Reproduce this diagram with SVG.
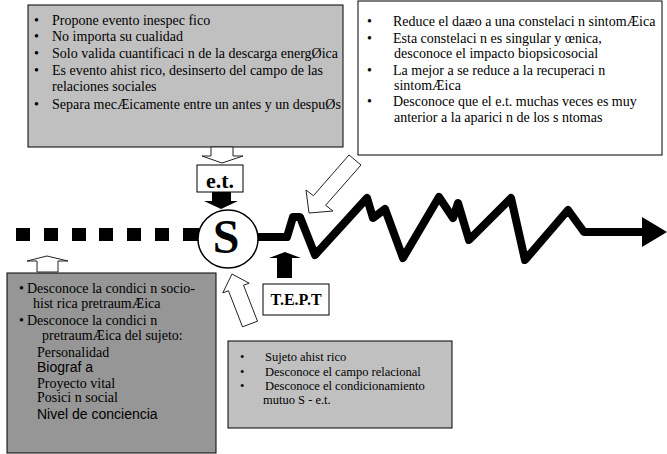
<svg xmlns="http://www.w3.org/2000/svg" width="667" height="454" viewBox="0 0 667 454">
<style>
.t{font-family:"Liberation Serif","Times New Roman",serif;font-size:14px;fill:#000}
.s{font-family:"Liberation Sans",Arial,sans-serif;font-size:14px;fill:#000}
.m{font-family:"Liberation Serif","Times New Roman",serif;font-size:12.5px;fill:#000}
.b{font-family:"Liberation Serif","Times New Roman",serif;font-weight:bold;fill:#000}
.box{stroke:#000;stroke-width:1}
.hollow{fill:#fff;stroke:#222;stroke-width:1;stroke-linejoin:miter}
</style>
<rect width="667" height="454" fill="#fff"/>

<g id="box-evento">
<rect class="box" x="28" y="5" width="315" height="142" fill="#c0c0c0"/>
<text class="t" x="34" y="24.5">•</text><text class="t" x="52" y="24.5">Propone evento inespec fico</text>
<text class="t" x="34" y="41">•</text><text class="t" x="52" y="41">No importa su cualidad</text>
<text class="t" x="34" y="58">•</text><text class="t" x="52" y="58">Solo valida cuantificaci n de la descarga energØica</text>
<text class="t" x="34" y="74.5">•</text><text class="t" x="52" y="74.5">Es evento ahist rico, desinserto del campo de las</text>
<text class="t" x="52" y="91">relaciones sociales</text>
<text class="t" x="34" y="109">•</text><text class="t" x="52" y="109">Separa mecÆicamente entre un antes y un despuØs</text>
</g>

<g id="box-sintomas">
<rect class="box" x="358" y="1" width="304" height="154" fill="#fff"/>
<text class="t" x="367" y="26">•</text><text class="t" x="393" y="26">Reduce el daæo a una constelaci n sintomÆica</text>
<text class="t" x="367" y="42.5">•</text><text class="t" x="393" y="42.5">Esta constelaci n es singular y œnica,</text>
<text class="t" x="394" y="58">desconoce el impacto biopsicosocial</text>
<text class="t" x="367" y="74.5">•</text><text class="t" x="393" y="74.5">La mejor a se reduce a la recuperaci n</text>
<text class="t" x="394" y="90">sintomÆica</text>
<text class="t" x="367" y="106">•</text><text class="t" x="393" y="106">Desconoce que el e.t. muchas veces es muy</text>
<text class="t" x="394" y="121.5">anterior a la aparici n de los s ntomas</text>
</g>

<g id="box-condicion">
<rect class="box" x="7" y="273" width="209" height="180" fill="#969696"/>
<text class="t" x="19" y="292.5">•</text><text class="t" x="27" y="292.5">Desconoce la condici n socio-</text>
<text class="t" x="33" y="307.5">hist rica pretraumÆica</text>
<text class="t" x="19" y="324.5">•</text><text class="t" x="27" y="324.5">Desconoce la condici n</text>
<text class="t" x="42" y="339.5">pretraumÆica del sujeto:</text>
<text class="t" x="37" y="356.5">Personalidad</text>
<text class="s" x="37" y="371.5">Biograf a</text>
<text class="t" x="37" y="387.5">Proyecto vital</text>
<text class="t" x="37" y="401.5">Posici n social</text>
<text class="s" x="37" y="418.5">Nivel de conciencia</text>
</g>

<g id="box-sujeto">
<rect class="box" x="228" y="341" width="224" height="87" fill="#c0c0c0"/>
<text class="m" x="240" y="361">•</text><text class="m" x="265" y="361">Sujeto ahist rico</text>
<text class="m" x="240" y="376">•</text><text class="m" x="265" y="376">Desconoce el campo relacional</text>
<text class="m" x="240" y="390">•</text><text class="m" x="265" y="390">Desconoce el condicionamiento</text>
<text class="m" x="263" y="404">mutuo S - e.t.</text>
</g>

<g id="node-et">
<rect class="box" x="197" y="165" width="46" height="27" fill="#fff"/>
<text class="b" x="220" y="188" font-size="22" text-anchor="middle">e.t.</text>
</g>

<g id="node-tept">
<rect class="box" x="263" y="284" width="66" height="31" fill="#fff"/>
<text class="b" x="296" y="305" font-size="16" text-anchor="middle">T.E.P.T</text>
</g>

<g id="connectors">
<g fill="#000">
<rect x="16" y="228" width="14" height="13"/>
<rect x="44" y="228" width="14" height="13"/>
<rect x="72" y="228" width="14" height="13"/>
<rect x="99" y="228" width="14" height="13"/>
<rect x="127" y="228" width="14" height="13"/>
<rect x="155" y="228" width="14" height="13"/>
<rect x="183" y="228" width="16" height="13"/>
</g>
<path d="M 256 237 L 287 237 L 293 217 L 300 217 L 315 255 L 367 198 L 373 218 L 385 209 L 403 258 L 439 197 L 453 218 L 458 203 L 469 240 L 511 198 L 525 260 L 568 210 L 584 232 L 645 232" fill="none" stroke="#000" stroke-width="8" stroke-linejoin="round" stroke-linecap="round"/>
<polygon points="642,217 667,232 642,247" fill="#000"/>
<polygon class="hollow" points="211,147 233,147 233,156 243,156 222,163 202,156 211,156"/>
<polygon points="212,192 231,192 231,201 238,201 221,209 204,201 212,201" fill="#000"/>
<polygon class="hollow" points="349,155 361,165 325.6,205.3 333,211 309,213 306,190 313.4,195.7"/>
<polygon class="hollow" points="232,274 249.2,283.2 243.5,285.2 257.5,321.2 242.5,326.8 228.5,290.8 222.8,292.8"/>
<polygon points="277,278 277,258 269,258 285,252 301,258 292,258 292,278" fill="#000"/>
<polygon class="hollow" points="37,272 37,261 27,261 47,256 68,261 58,261 58,272"/>
</g>

<g id="node-S">
<ellipse cx="228" cy="239" rx="30" ry="29" fill="#fff" stroke="#000" stroke-width="1.5"/>
<text class="b" x="226" y="253" font-size="48" text-anchor="middle">S</text>
</g>
</svg>
